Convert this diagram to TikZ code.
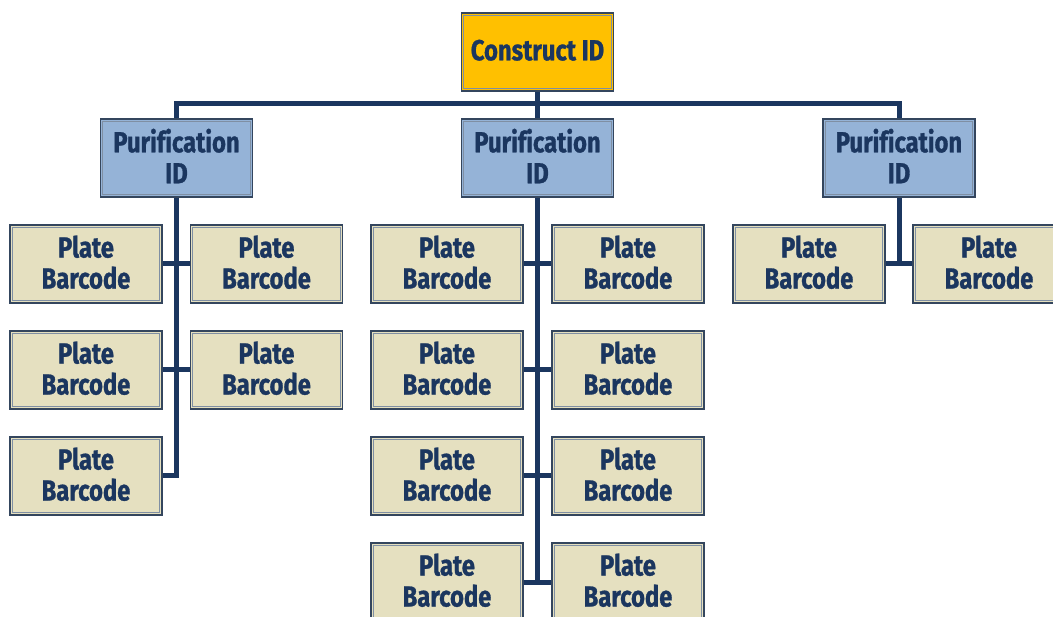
\documentclass[tikz,border=0pt]{standalone}
\usepackage{fontspec}
\setmainfont[FakeStretch=0.82, Ligatures=NoCommon, BoldFeatures={FakeBold=1}]{Fira Sans}
\definecolor{navy}{HTML}{1B365F}
\definecolor{edgedark}{HTML}{34465E}
\definecolor{edgelight}{HTML}{7F8FA3}
\definecolor{gold}{HTML}{FFC000}
\definecolor{steel}{HTML}{95B3D7}
\definecolor{khaki}{HTML}{E5E0C0}
\tikzset{
  card/.style={draw=edgedark, line width=1.6pt, minimum width=152pt, minimum height=78pt,
    inner sep=0pt, align=center, text=navy, text depth=4pt,
    font=\bfseries\fontsize{29}{31}\selectfont,
    path picture={\draw[edgelight, line width=1.2pt]
      ([shift={(2.2pt,-2.2pt)}]path picture bounding box.north west) rectangle
      ([shift={(-2.2pt,2.2pt)}]path picture bounding box.south east);}},
  rootbox/.style={card, fill=gold},
  purbox/.style={card, fill=steel},
  platebox/.style={card, fill=khaki},
  link/.style={draw=navy, line width=5pt}
}
\begin{document}
\begin{tikzpicture}[x=1pt, y=-1pt]
\useasboundingbox (0,0) rectangle (1053,617);

% root and purification level
\node[rootbox] (c) at (537.5,52) {Construct ID};
\node[purbox] (p1) at (176.5,158) {Purification\\ID};
\node[purbox] (p2) at (537.5,158) {Purification\\ID};
\node[purbox] (p3) at (899,158) {Purification\\ID};
\coordinate (bus) at (0,104);

% plates under the first purification
\node[platebox] (a1) at (86,264) {Plate\\Barcode};
\node[platebox] (a2) at (266.5,264) {Plate\\Barcode};
\node[platebox] (a3) at (86,370) {Plate\\Barcode};
\node[platebox] (a4) at (266.5,370) {Plate\\Barcode};
\node[platebox] (a5) at (86,476) {Plate\\Barcode};

% plates under the second purification
\node[platebox] (b1) at (447,264) {Plate\\Barcode};
\node[platebox] (b2) at (628,264) {Plate\\Barcode};
\node[platebox] (b3) at (447,370) {Plate\\Barcode};
\node[platebox] (b4) at (628,370) {Plate\\Barcode};
\node[platebox] (b5) at (447,476) {Plate\\Barcode};
\node[platebox] (b6) at (628,476) {Plate\\Barcode};
\node[platebox] (b7) at (447,582) {Plate\\Barcode};
\node[platebox] (b8) at (628,582) {Plate\\Barcode};

% plates under the third purification
\node[platebox] (d1) at (809,264) {Plate\\Barcode};
\node[platebox] (d2) at (989,264) {Plate\\Barcode};

% connectors: root to purifications
\draw[link] (c.south) -- (c.south |- bus);
\draw[link] (p1.north) -- (p1.north |- bus) -- (p3.north |- bus) -- (p3.north);
\draw[link] (p2.north) -- (p2.north |- bus);

% purification to plates
\draw[link] (p1.south) -- (p1.south |- a5.east) -- (a5.east);
\draw[link] (a1.east) -- (a2.west);
\draw[link] (a3.east) -- (a4.west);

\draw[link] (p2.south) -- (p2.south |- b7.east);
\draw[link] (b1.east) -- (b2.west);
\draw[link] (b3.east) -- (b4.west);
\draw[link] (b5.east) -- (b6.west);
\draw[link] (b7.east) -- (b8.west);

\draw[link] (p3.south) -- (p3.south |- d1.east);
\draw[link] (d1.east) -- (d2.west);
\end{tikzpicture}
\end{document}
